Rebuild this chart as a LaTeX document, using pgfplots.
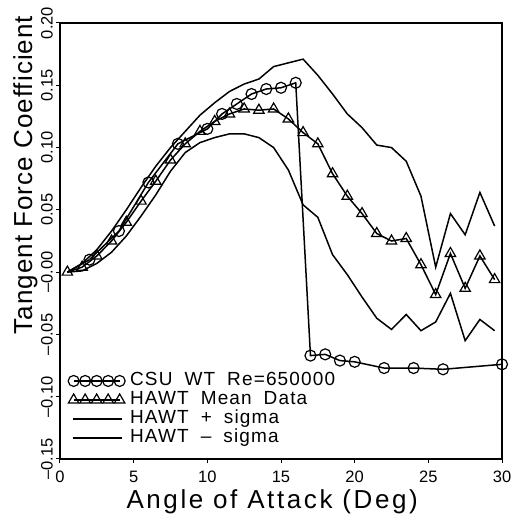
\documentclass[border=0pt]{standalone}
\usepackage{pgfplots}
\pgfplotsset{compat=1.18}
\usepackage{pgfplotstable}
\usepackage{fontspec}
\setmainfont{Liberation Sans}
\newfontfamily\xlabfont[LetterSpace=10]{Liberation Sans}
\newfontfamily\ylabfont[LetterSpace=4]{Liberation Sans}
\newfontfamily\legfont[LetterSpace=6]{Liberation Sans}

\pgfplotsset{
  fivemarks/.style={legend image code/.code={\draw[##1, mark repeat=1] plot coordinates {(0bp,0bp) (11.5bp,0bp) (23bp,0bp) (34.5bp,0bp) (46bp,0bp)};}},
  longline/.style={legend image code/.code={\draw[##1] (-1bp,0bp) -- (48bp,0bp);}},
}

\pgfplotstableread{
x y
2 0.010
4 0.033
6 0.072
8 0.103
10 0.115
11 0.127
12 0.135
13 0.143
14 0.147
15 0.148
16 0.152
17 -0.067
18 -0.066
19 -0.071
20 -0.072
22 -0.077
24 -0.077
26 -0.078
30 -0.074
}\csu

\pgfplotstableread{
x y
0.5 0.000
1.5 0.004
2.5 0.013
3.5 0.025
4.5 0.040
5.5 0.057
6.5 0.073
7.5 0.090
8.5 0.103
9.5 0.113
10.5 0.121
11.5 0.127
12.5 0.131
13.5 0.130
14.5 0.131
15.5 0.123
16.5 0.112
17.5 0.103
18.5 0.079
19.5 0.061
20.5 0.047
21.5 0.031
22.5 0.025
23.5 0.027
24.5 0.006
25.5 -0.018
26.5 0.015
27.5 -0.013
28.5 0.013
29.5 -0.006
}\hmean

\pgfplotstableread{
x y
0.5 0.000
1.5 0.007
2.5 0.018
3.5 0.033
4.5 0.050
5.5 0.068
6.5 0.085
7.5 0.100
8.5 0.113
9.5 0.126
10.5 0.136
11.5 0.145
12.5 0.151
13.5 0.155
14.5 0.165
15.5 0.168
16.5 0.171
17.5 0.158
18.5 0.143
19.5 0.127
20.5 0.116
21.5 0.102
22.5 0.100
23.5 0.089
24.5 0.061
25.5 0.004
26.5 0.047
27.5 0.030
28.5 0.064
29.5 0.037
}\hplus

\pgfplotstableread{
x y
0.5 0.000
1.5 0.001
2.5 0.007
3.5 0.016
4.5 0.029
5.5 0.045
6.5 0.062
7.5 0.081
8.5 0.096
9.5 0.104
10.5 0.108
11.5 0.111
12.5 0.111
13.5 0.108
14.5 0.100
15.5 0.082
16.5 0.054
17.5 0.044
18.5 0.014
19.5 -0.002
20.5 -0.020
21.5 -0.037
22.5 -0.046
23.5 -0.034
24.5 -0.047
25.5 -0.040
26.5 -0.017
27.5 -0.055
28.5 -0.038
29.5 -0.047
}\hminus

\begin{document}
\begin{tikzpicture}
\path[use as bounding box] (-60bp,-55bp) rectangle (453bp,459bp);
\begin{axis}[
  at={(0,0)}, anchor=south west,
  width=442bp, height=436bp, scale only axis,
  xmin=0, xmax=30, ymin=-0.15, ymax=0.20,
  xtick={0,5,10,15,20,25,30},
  xticklabels={0,5,10,15,20,25,30},
  ytick={-0.15,-0.1,-0.05,0,0.05,0.1,0.15,0.2},
  yticklabels={\textendash0.15,\textendash0.10,\textendash0.05,\textendash0.00,0.05,0.10,0.15,0.20},
  tick pos=left, tick align=outside, major tick length=4bp,
  tick style={line width=1bp, black},
  axis line style={line width=1.4bp},
  xticklabel style={font=\fontsize{16.5bp}{19bp}\selectfont, anchor=base, yshift=-19bp, inner sep=1bp},
  yticklabel style={font=\fontsize{16.5bp}{19bp}\selectfont, rotate=90, anchor=south, inner sep=3bp},
  xlabel={Angle of Attack (Deg)},
  ylabel={Tangent Force Coefficient},
  xlabel style={font=\xlabfont\fontsize{26bp}{30bp}\selectfont, at={(axis description cs:0.48,-0.114)}, anchor=base, inner sep=1bp},
  ylabel style={font=\ylabfont\fontsize{26bp}{30bp}\selectfont, at={(axis description cs:-0.0633,0.651)}, anchor=base},
  legend style={at={(axis description cs:0.018,0.026)}, anchor=south west, draw=none, fill=none,
    inner sep=0pt, font=\legfont\fontsize{19bp}{21bp}\selectfont, row sep=0pt, column sep=4bp,
    nodes={inner sep=1bp, text height=13bp, text depth=4bp}},
  legend cell align=left,
  every axis plot/.append style={line width=1.5bp, black},
]
\addplot[mark=o, mark size=5.5bp, mark options={line width=1.2bp}, fivemarks]
  table[x=x,y=y] {\csu};
\addlegendentry{CSU\hspace{12bp}WT\hspace{12bp}Re=650000}
\addplot[mark=triangle, mark size=6bp, mark options={line width=1.2bp}, fivemarks]
  table[x=x,y=y] {\hmean};
\addlegendentry{HAWT\hspace{12bp}Mean\hspace{12bp}Data}
\addplot[no marks, longline]
  table[x=x,y=y] {\hplus};
\addlegendentry{HAWT\hspace{12bp}+\hspace{12bp}sigma}
\addplot[no marks, longline]
  table[x=x,y=y] {\hminus};
\addlegendentry{HAWT\hspace{12bp}\textendash\hspace{12bp}sigma}
\addplot[no marks, forget plot] coordinates {(0.5,0.000) (2,0.010)};
\end{axis}
\end{tikzpicture}
\end{document}
